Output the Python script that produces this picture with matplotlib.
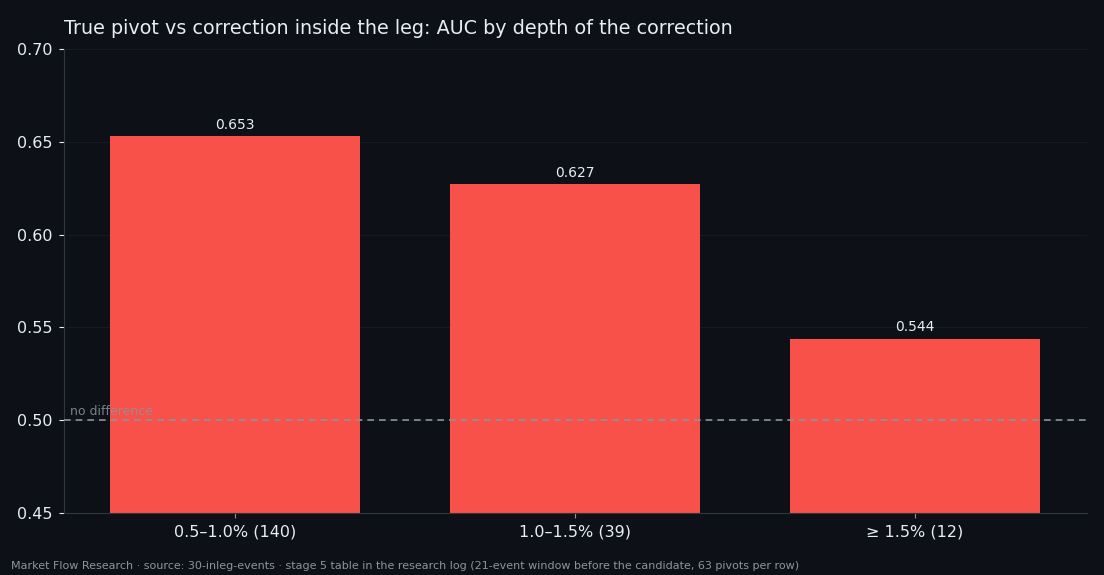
import matplotlib
matplotlib.use("Agg")
import matplotlib.pyplot as plt

categories = ["0.5–1.0% (140)", "1.0–1.5% (39)", "≥ 1.5% (12)"]
auc_values = [0.653, 0.627, 0.544]
y_ticks = [0.45, 0.50, 0.55, 0.60, 0.65, 0.70]
baseline = 0.5

BG = "#0d1017"
FG = "#e6edf3"
MUTED = "#8b949e"
BAR = "#f85149"

fig = plt.figure(figsize=(11.04, 5.75), dpi=100, facecolor=BG)
ax = fig.add_axes([64/1104, 1-513/575, (1087-64)/1104, (513-49)/575])
ax.set_facecolor(BG)

x = list(range(len(categories)))
bars = ax.bar(x, auc_values, width=0.735, color=BAR, zorder=2)
for xi, v in zip(x, auc_values):
    ax.annotate(f"{v:.3f}", (xi, v), xytext=(0, 3), textcoords="offset points",
                ha="center", va="bottom", color=FG, fontsize=10)

ax.axhline(baseline, color=MUTED, linestyle=(0, (4, 3)), linewidth=1.2, zorder=3)
ax.text(-0.485, baseline + 0.0012, "no difference", color=MUTED, fontsize=9,
        ha="left", va="bottom", alpha=0.85, zorder=4)

ax.set_xlim(-0.503, 2.506)
ax.set_ylim(0.45, 0.70)
ax.set_yticks(y_ticks)
ax.set_yticklabels([f"{t:.2f}" for t in y_ticks])
ax.set_xticks(x)
ax.set_xticklabels(categories)
ax.tick_params(axis="both", colors=FG, labelsize=11.5)
ax.tick_params(axis="x", colors=MUTED, labelcolor=FG, pad=5)
ax.tick_params(axis="y", colors=FG, labelcolor=FG, pad=5)

ax.grid(axis="y", color="#161a21", linewidth=0.8, zorder=0)
ax.set_axisbelow(True)
for s in ["top", "right"]:
    ax.spines[s].set_visible(False)
for s in ["left", "bottom"]:
    ax.spines[s].set_color("#30363d")

ax.set_title("True pivot vs correction inside the leg: AUC by depth of the correction",
             loc="left", color=FG, fontsize=13.8, pad=11)

fig.text(11/1104, 1-566/575, "Market Flow Research · source: 30-inleg-events · stage 5 table in the research log (21-event window before the candidate, 63 pivots per row)",
         color=MUTED, fontsize=8, ha="left", va="center")

fig.savefig("out.png", dpi=100, facecolor=BG)
